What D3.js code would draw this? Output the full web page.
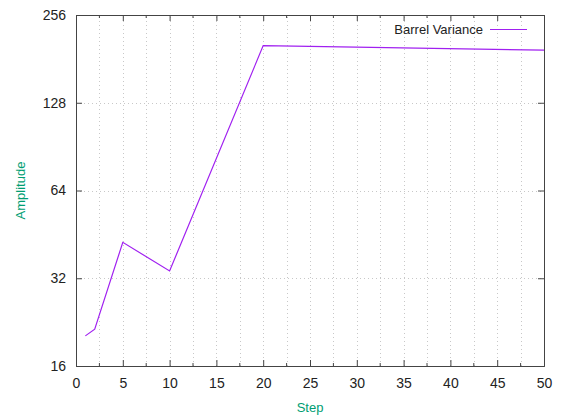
<!DOCTYPE html>
<html><head><meta charset="utf-8">
<script src="https://cdn.jsdelivr.net/npm/d3@7"></script>
<style>body{margin:0;background:#fff}svg{display:block}text{font-family:"Liberation Sans",Arial,sans-serif;font-size:12px;fill:#222}</style>
</head><body><svg id="c" width="564" height="419"></svg>
<script>
const steps = [1, 2, 5, 10, 20, 50];
const amplitude = [20.3, 21.4, 42.5, 33.9, 201, 194];
const seriesName = "Barrel Variance";
const xTicks = [0, 5, 10, 15, 20, 25, 30, 35, 40, 45, 50];
const xMinor = [2.5, 7.5, 12.5, 17.5, 22.5, 27.5, 32.5, 37.5, 42.5, 47.5];
const yTicks = [16, 32, 64, 128, 256];

const m = {l: 76, r: 20, t: 15, b: 53};
const W = 564, H = 419;
const svg = d3.select("#c");
const x = d3.scaleLinear().domain([0, 50]).range([m.l, W - m.r]);
const y = d3.scaleLog().base(2).domain([16, 256]).range([H - m.b, m.t]);

const grid = svg.append("g").attr("stroke", "#c8c8c8").attr("stroke-width", 1).attr("stroke-dasharray", "1,3");
xTicks.concat(xMinor).filter(v => v > 0 && v < 50).forEach(v => {
  grid.append("line").attr("x1", Math.round(x(v)) + 0.5).attr("x2", Math.round(x(v)) + 0.5).attr("y1", y(16)).attr("y2", y(256));
});
yTicks.filter(v => v > 16 && v < 256).forEach(v => {
  grid.append("line").attr("y1", Math.round(y(v)) + 0.5).attr("y2", Math.round(y(v)) + 0.5).attr("x1", x(0)).attr("x2", x(50));
});

// axes
const ax = svg.append("g");
ax.append("g").attr("transform", `translate(0,${y(16)})`)
  .call(d3.axisBottom(x).tickValues(xTicks).tickSize(-6).tickPadding(12).tickFormat(d3.format("d")));
ax.append("g").attr("transform", `translate(0,${y(256)})`)
  .call(d3.axisTop(x).tickValues(xTicks).tickSize(-6).tickFormat(""));
ax.append("g").attr("transform", `translate(${x(0)},0)`)
  .call(d3.axisLeft(y).tickValues(yTicks).tickSize(-6).tickPadding(10).tickFormat(d3.format("d")));
ax.append("g").attr("transform", `translate(${x(50)},0)`)
  .call(d3.axisRight(y).tickValues(yTicks).tickSize(-6).tickFormat(""));
// minor x ticks
const mt = svg.append("g").attr("stroke", "#444");
xMinor.forEach(v => {
  mt.append("line").attr("x1", x(v)).attr("x2", x(v)).attr("y1", y(16)).attr("y2", y(16) - 3);
  mt.append("line").attr("x1", x(v)).attr("x2", x(v)).attr("y1", y(256)).attr("y2", y(256) + 3);
});
svg.selectAll(".domain").attr("stroke", "#444");
svg.selectAll(".tick line").attr("stroke", "#444");
svg.selectAll(".tick text").style("font-size", "14px").attr("fill", "#222");

// line
const data = steps.map((s, i) => ({s, v: amplitude[i]}));
svg.append("path").datum(data)
  .attr("fill", "none").attr("stroke", "#a020f0").attr("stroke-width", 1.2)
  .attr("d", d3.line().x(d => x(d.s)).y(d => y(d.v)));

// legend
svg.append("text").attr("x", 483).attr("y", 34).attr("text-anchor", "end").style("font-size", "13px").text(seriesName);
svg.append("line").attr("x1", 490).attr("x2", 527).attr("y1", 29.5).attr("y2", 29.5).attr("stroke", "#a020f0").attr("stroke-width", 1.2);

// axis labels
svg.append("text").attr("x", (x(0) + x(50)) / 2).attr("y", 412).attr("text-anchor", "middle")
  .style("font-size", "13px").style("fill", "#009e73").text("Step");
svg.append("text").attr("transform", `translate(25,${(y(16) + y(256)) / 2}) rotate(-90)`).attr("text-anchor", "middle")
  .style("font-size", "13px").style("fill", "#009e73").text("Amplitude");
</script></body></html>
